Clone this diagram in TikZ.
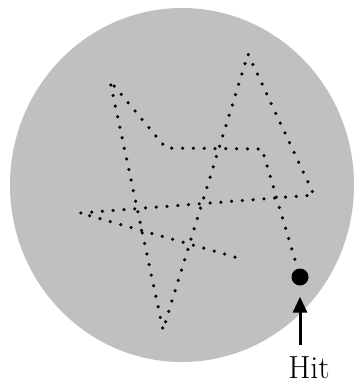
\documentclass[tikz,border=0pt]{standalone}
\usepackage{tikz}
\usetikzlibrary{arrows.meta, positioning}
\definecolor{targetgray}{HTML}{C0C0C0}

\begin{document}
\begin{tikzpicture}[x=1pt, y=-1pt,
  walk/.style={line width=3.5pt, line cap=round, dash pattern=on 0pt off 10.8pt},
  hitdot/.style={circle, fill=black, minimum size=17pt, inner sep=0pt}]
  \useasboundingbox (0,0) rectangle (356,386);
  \fill[targetgray] (182,185) ellipse [x radius=172, y radius=177];
  % turning points of the walk
  \foreach \name/\x/\y in {a/235/257, b/80/213, c/314/195, d/248/54, e/163/330,
                           f/110/81, g/166/148, h/262/149, i/296/263} {
    \coordinate (\name) at (\x,\y);
  }
  \draw[walk] (a) -- (b) -- (c) -- (d) -- (e) -- (f) -- (g) -- (h) -- (i);
  \node[hitdot] (hit) at (300,277) {};
  \node[anchor=base, inner sep=0pt, font=\fontsize{32}{32}\selectfont] (label) at (309,378) {Hit};
  \draw[-{Triangle[length=16pt, width=14pt]}, line width=3pt, shorten <=11pt, shorten >=11pt]
    (label.north -| hit) -- (hit.south);
\end{tikzpicture}
\end{document}
